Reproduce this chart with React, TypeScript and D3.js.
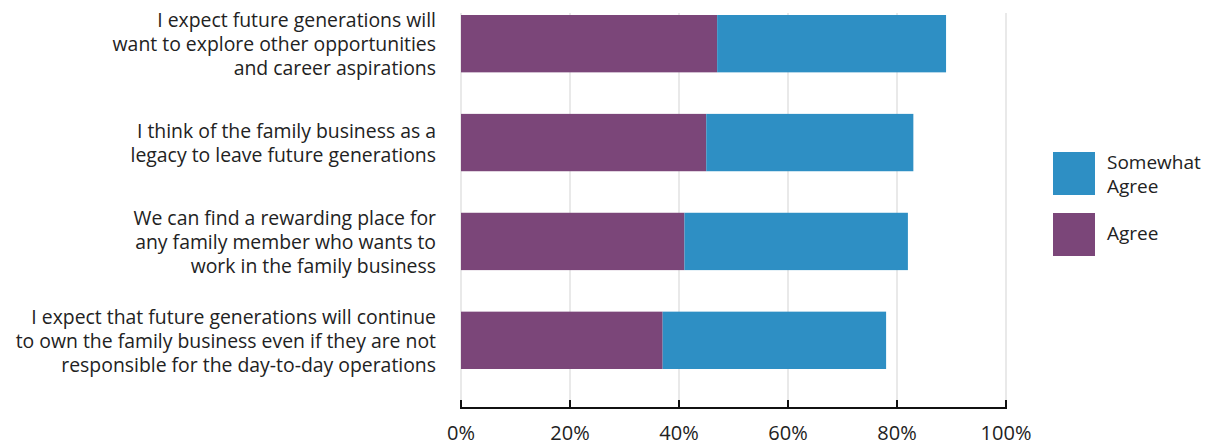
import React from "react";
import * as d3 from "d3";

const categories: string[][] = [
  ["I expect future generations will", "want to explore other opportunities", "and career aspirations"],
  ["I think of the family business as a", "legacy to leave future generations"],
  ["We can find a rewarding place for", "any family member who wants to", "work in the family business"],
  ["I expect that future generations will continue", "to own the family business even if they are not", "responsible for the day-to-day operations"],
];
const agree = [47, 45, 41, 37];
const somewhatAgree = [42, 38, 41, 41];
const xTicks = [0, 20, 40, 60, 80, 100];
const legendItems = [
  { lines: ["Somewhat", "Agree"], color: "#2E8FC4" },
  { lines: ["Agree"], color: "#7B4679" },
];

const W = 1209;
const H = 446;
const FONT = "'Open Sans', 'Noto Sans', sans-serif";
const FS = 19.4;

export default function App() {
  const x = d3.scaleLinear().domain([0, 100]).range([461, 1006]);
  const y = d3
    .scaleBand<number>()
    .domain(d3.range(categories.length))
    .range([15, 369])
    .paddingInner(0.42)
    .paddingOuter(0);
  const axisY = 408;
  const lh = 24;
  return (
    <svg width={W} height={H} style={{ position: "absolute", left: 0, top: 0, background: "#fff" }}>
      {xTicks.slice(1).map((t) => (
        <line key={"g" + t} x1={x(t)} x2={x(t)} y1={13} y2={axisY} stroke="#e9e9e9" strokeWidth={2} />
      ))}
      <line x1={x(0)} x2={x(0)} y1={13} y2={axisY} stroke="#e9e9e9" strokeWidth={2} />
      {categories.map((c, i) => {
        const y0 = y(i)!;
        const bw = y.bandwidth();
        return (
          <g key={i}>
            <rect x={x(0)} y={y0} width={x(agree[i]) - x(0)} height={bw} fill="#7B4679" />
            <rect
              x={x(agree[i])}
              y={y0}
              width={x(agree[i] + somewhatAgree[i]) - x(agree[i])}
              height={bw}
              fill="#2E8FC4"
            />
            {c.map((line, j) => (
              <text
                key={j}
                x={436}
                y={y0 + bw / 2 + (j - (c.length - 1) / 2) * lh}
                textAnchor="end"
                dominantBaseline="central"
                fontFamily={FONT}
                fontSize={FS}
                fill="#222"
              >
                {line}
              </text>
            ))}
          </g>
        );
      })}
      <line x1={x(0) - 1} x2={x(100) + 1} y1={axisY} y2={axisY} stroke="#111" strokeWidth={2} />
      {xTicks.map((t) => (
        <g key={"t" + t}>
          <line x1={x(t)} x2={x(t)} y1={400} y2={axisY} stroke="#111" strokeWidth={2} />
          <text
            x={x(t)}
            y={440}
            textAnchor="middle"
            fontFamily={FONT}
            fontSize={20}
            fill="#222"
          >
            {t + "%"}
          </text>
        </g>
      ))}
      {legendItems.map((item, i) => {
        const top = 152 + i * 61;
        return (
          <g key={"l" + i}>
            <rect x={1053} y={top} width={42} height={43} fill={item.color} />
            {item.lines.map((ln, j) => (
              <text
                key={j}
                x={1107}
                y={item.lines.length === 1 ? top + 20 : top + 10 + j * 24}
                dominantBaseline="central"
                fontFamily={FONT}
                fontSize={19}
                fill="#222"
              >
                {ln}
              </text>
            ))}
          </g>
        );
      })}
    </svg>
  );
}
